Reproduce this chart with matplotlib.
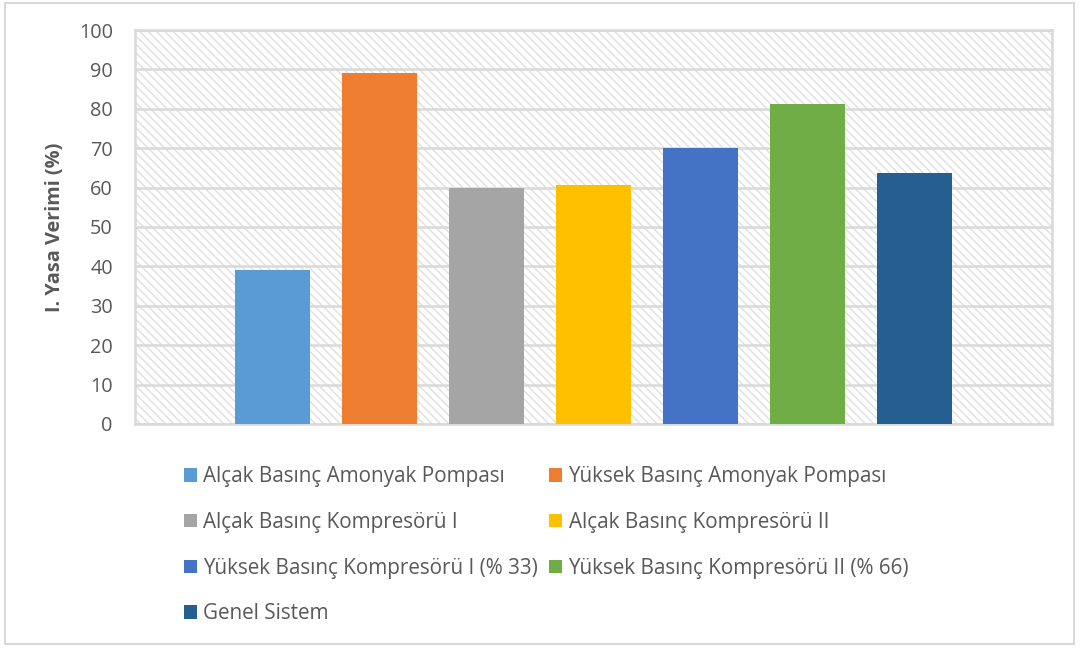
import matplotlib.pyplot as plt
from matplotlib.patches import Rectangle

plt.rcParams['font.family'] = ['Open Sans', 'DejaVu Sans']
plt.rcParams['hatch.linewidth'] = 1.0

labels = ['Alçak Basınç Amonyak Pompası', 'Yüksek Basınç Amonyak Pompası',
          'Alçak Basınç Kompresörü I', 'Alçak Basınç Kompresörü II',
          'Yüksek Basınç Kompresörü I (% 33)', 'Yüksek Basınç Kompresörü II (% 66)',
          'Genel Sistem']
values = [39.1, 89.1, 59.8, 60.7, 70.1, 81.2, 63.7]
colors = ['#5b9bd5', '#ed7d31', '#a5a5a5', '#ffc000', '#4472c4', '#70ad47', '#255e91']

grey = '#595959'
line = '#d9d9d9'

fig = plt.figure(figsize=(10.8, 6.48), dpi=100)
fig.patches.append(Rectangle((0.005, 0.006), 0.989, 0.99, transform=fig.transFigure,
                             fill=False, edgecolor=line, linewidth=1.5))

ax = fig.add_axes([0.125, 0.3457, 0.849, 0.608])
# hatched plot background
ax.add_patch(Rectangle((0, 0), 1, 1, transform=ax.transAxes, facecolor='white',
                       edgecolor='#e0e0e0', linewidth=0, hatch='\\\\\\\\', zorder=0))

bars = []
for i, (lab, v, c) in enumerate(zip(labels, values, colors)):
    bars.append(ax.bar(i, v, width=0.70, color=c, label=lab, zorder=3))

ax.set_xlim(3 - 4.285, 3 + 4.285)
ax.set_ylim(0, 100)
ax.set_yticks(range(0, 101, 10))
ax.set_xticks([])
ax.yaxis.grid(True, color=line, linewidth=1.8, zorder=1)
for gl in ax.get_ygridlines():
    gl.set_zorder(1)
for s in ax.spines.values():
    s.set_color(line)
    s.set_linewidth(1.8)
ax.tick_params(axis='y', length=0, pad=16, labelsize=14.3, labelcolor=grey)
ax.set_ylabel('I. Yasa Verimi (%)', fontsize=14.3, fontweight='bold', color=grey, labelpad=10)

# legend filled row by row
order = [0, 2, 4, 6, 1, 3, 5]
leg = fig.legend([bars[k] for k in order], [labels[k] for k in order],
                 loc='upper left', bbox_to_anchor=(0.163, 0.293), ncol=2, frameon=False,
                 fontsize=14.9, handlelength=0.62, handleheight=0.62, handletextpad=0.3,
                 labelspacing=1.19, columnspacing=0.55, borderaxespad=0)
for t in leg.get_texts():
    t.set_color(grey)

fig.savefig('out.png', dpi=100)
